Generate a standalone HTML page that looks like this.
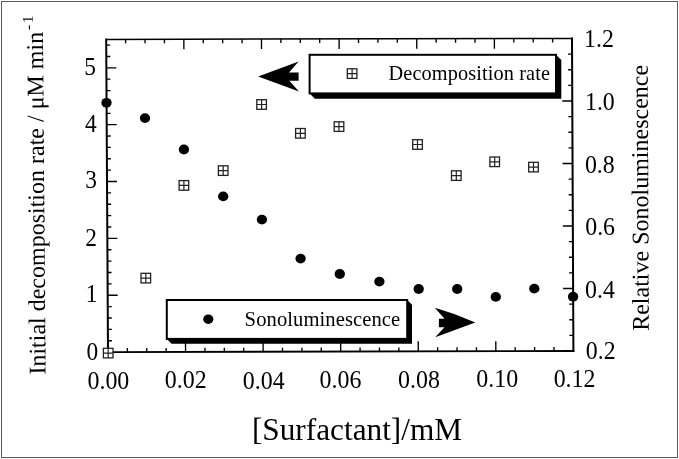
<!DOCTYPE html><html><head><meta charset="utf-8"><style>html,body{margin:0;padding:0;background:#fff;width:679px;height:459px;overflow:hidden}svg{display:block;will-change:transform}</style></head><body><svg width="679" height="459" viewBox="0 0 679 459"><rect x="0" y="0" width="679" height="459" fill="#fff"/><g><rect x="1.5" y="1.5" width="676" height="456" fill="#fff" stroke="#5a5a5a" stroke-width="1"/><line x1="106.2" y1="39.4" x2="572" y2="38.5" stroke="#000" stroke-width="1.5" stroke-linecap="square"/><line x1="108" y1="352.1" x2="573.4" y2="351" stroke="#000" stroke-width="1.8" stroke-linecap="square"/><line x1="106.2" y1="39.4" x2="108" y2="352.1" stroke="#000" stroke-width="2.0" stroke-linecap="square"/><line x1="572" y1="38.5" x2="573.4" y2="351" stroke="#000" stroke-width="2.0" stroke-linecap="square"/><path d="M127.39 352.05L127.37 348.05M125.61 39.36L125.63 43.36M146.78 352.01L146.76 348.01M145.02 39.33L145.04 43.32M166.18 351.96L166.15 347.96M164.43 39.29L164.45 43.29M185.57 351.92L185.51 341.92M183.83 39.25L183.89 49.25M204.96 351.87L204.94 347.87M203.24 39.21L203.26 43.21M224.35 351.83L224.33 347.83M222.65 39.17L222.67 43.17M243.74 351.78L243.72 347.78M242.06 39.14L242.08 43.14M263.13 351.73L263.08 341.73M261.47 39.1L261.52 49.1M282.52 351.69L282.5 347.69M280.88 39.06L280.9 43.06M301.92 351.64L301.9 347.64M300.28 39.02L300.3 43.02M321.31 351.6L321.29 347.6M319.69 38.99L319.71 42.99M340.7 351.55L340.65 341.55M339.1 38.95L339.15 48.95M360.09 351.5L360.07 347.5M358.51 38.91L358.53 42.91M379.48 351.46L379.46 347.46M377.92 38.88L377.94 42.87M398.88 351.41L398.86 347.41M397.32 38.84L397.34 42.84M418.27 351.37L418.22 341.37M416.73 38.8L416.78 48.8M437.66 351.32L437.64 347.32M436.14 38.76L436.16 42.76M457.05 351.27L457.03 347.28M455.55 38.73L455.57 42.72M476.44 351.23L476.42 347.23M474.96 38.69L474.98 42.69M495.83 351.18L495.79 341.18M494.37 38.65L494.41 48.65M515.22 351.14L515.21 347.14M513.77 38.61L513.79 42.61M534.62 351.09L534.6 347.09M533.18 38.57L533.2 42.57M554.01 351.05L553.99 347.05M552.59 38.54L552.61 42.54M107.93 340.73L111.93 340.72M107.87 329.36L111.87 329.35M107.8 317.99L111.8 317.98M107.74 306.62L111.74 306.61M107.67 295.25L117.67 295.22M107.61 283.87L111.61 283.87M107.54 272.5L111.54 272.49M107.48 261.13L111.48 261.12M107.41 249.76L111.41 249.75M107.35 238.39L117.35 238.37M107.28 227.02L111.28 227.01M107.21 215.65L111.21 215.64M107.15 204.28L111.15 204.27M107.08 192.91L111.08 192.9M107.02 181.54L117.02 181.52M106.95 170.17L110.95 170.16M106.89 158.79L110.89 158.79M106.82 147.42L110.82 147.42M106.76 136.05L110.76 136.04M106.69 124.68L116.69 124.66M106.63 113.31L110.63 113.3M106.56 101.94L110.56 101.93M106.49 90.57L110.49 90.56M106.43 79.2L110.43 79.19M106.36 67.83L116.36 67.81M106.3 56.46L110.3 56.45M106.23 45.09L110.23 45.08M573.33 335.38L569.33 335.38M573.26 319.75L569.26 319.76M573.19 304.12L569.19 304.13M573.12 288.5L563.12 288.52M573.05 272.88L569.05 272.88M572.98 257.25L568.98 257.26M572.91 241.62L568.91 241.63M572.84 226L562.84 226.02M572.77 210.38L568.77 210.38M572.7 194.75L568.7 194.76M572.63 179.12L568.63 179.13M572.56 163.5L562.56 163.52M572.49 147.87L568.49 147.88M572.42 132.25L568.42 132.26M572.35 116.62L568.35 116.63M572.28 101L562.28 101.02M572.21 85.37L568.21 85.38M572.14 69.75L568.14 69.76M572.07 54.12L568.07 54.13" stroke="#000" stroke-width="1.35" fill="none"/><rect x="103.4" y="348.3" width="9.6" height="9.6" fill="#fff" stroke="#222" stroke-width="1.3"/><path d="M103.4 353.1H113M108.2 348.3V357.9" stroke="#222" stroke-width="1.2"/><rect x="141" y="273.3" width="9.6" height="9.6" fill="#fff" stroke="#222" stroke-width="1.3"/><path d="M141 278.1H150.6M145.8 273.3V282.9" stroke="#222" stroke-width="1.2"/><rect x="179.1" y="180.6" width="9.6" height="9.6" fill="#fff" stroke="#222" stroke-width="1.3"/><path d="M179.1 185.4H188.7M183.9 180.6V190.2" stroke="#222" stroke-width="1.2"/><rect x="218.4" y="165.8" width="9.6" height="9.6" fill="#fff" stroke="#222" stroke-width="1.3"/><path d="M218.4 170.6H228M223.2 165.8V175.4" stroke="#222" stroke-width="1.2"/><rect x="256.8" y="99.7" width="9.6" height="9.6" fill="#fff" stroke="#222" stroke-width="1.3"/><path d="M256.8 104.5H266.4M261.6 99.7V109.3" stroke="#222" stroke-width="1.2"/><rect x="295.6" y="128.5" width="9.6" height="9.6" fill="#fff" stroke="#222" stroke-width="1.3"/><path d="M295.6 133.3H305.2M300.4 128.5V138.1" stroke="#222" stroke-width="1.2"/><rect x="334.2" y="121.8" width="9.6" height="9.6" fill="#fff" stroke="#222" stroke-width="1.3"/><path d="M334.2 126.6H343.8M339 121.8V131.4" stroke="#222" stroke-width="1.2"/><rect x="412.7" y="139.7" width="9.6" height="9.6" fill="#fff" stroke="#222" stroke-width="1.3"/><path d="M412.7 144.5H422.3M417.5 139.7V149.3" stroke="#222" stroke-width="1.2"/><rect x="451.5" y="170.8" width="9.6" height="9.6" fill="#fff" stroke="#222" stroke-width="1.3"/><path d="M451.5 175.6H461.1M456.3 170.8V180.4" stroke="#222" stroke-width="1.2"/><rect x="489.9" y="157" width="9.6" height="9.6" fill="#fff" stroke="#222" stroke-width="1.3"/><path d="M489.9 161.8H499.5M494.7 157V166.6" stroke="#222" stroke-width="1.2"/><rect x="528.7" y="162.3" width="9.6" height="9.6" fill="#fff" stroke="#222" stroke-width="1.3"/><path d="M528.7 167.1H538.3M533.5 162.3V171.9" stroke="#222" stroke-width="1.2"/><ellipse cx="106.5" cy="102.8" rx="5.15" ry="4.9" fill="#000"/><ellipse cx="145" cy="118.1" rx="5.15" ry="4.9" fill="#000"/><ellipse cx="183.9" cy="149.5" rx="5.15" ry="4.9" fill="#000"/><ellipse cx="223.2" cy="196.4" rx="5.15" ry="4.9" fill="#000"/><ellipse cx="261.9" cy="219.6" rx="5.15" ry="4.9" fill="#000"/><ellipse cx="300.6" cy="258.6" rx="5.15" ry="4.9" fill="#000"/><ellipse cx="339.8" cy="274" rx="5.15" ry="4.9" fill="#000"/><ellipse cx="379.4" cy="281.6" rx="5.15" ry="4.9" fill="#000"/><ellipse cx="418.7" cy="289" rx="5.15" ry="4.9" fill="#000"/><ellipse cx="457.2" cy="289" rx="5.15" ry="4.9" fill="#000"/><ellipse cx="495.8" cy="296.9" rx="5.15" ry="4.9" fill="#000"/><ellipse cx="534.3" cy="288.6" rx="5.15" ry="4.9" fill="#000"/><ellipse cx="573.1" cy="296.7" rx="5.15" ry="4.9" fill="#000"/><polygon points="309.6,93.4 556,54.8 561.3,60.1 561.3,98.7 314.9,98.7" fill="#000"/><rect x="309.6" y="54.8" width="246.4" height="38.6" fill="#fff" stroke="#000" stroke-width="2"/><polygon points="166.8,338.9 407.2,300 412,304.8 412,343.7 171.6,343.7" fill="#000"/><rect x="166.8" y="300" width="240.4" height="38.9" fill="#fff" stroke="#000" stroke-width="2"/><rect x="347.3" y="68.8" width="9.6" height="9.6" fill="#fff" stroke="#222" stroke-width="1.3"/><path d="M347.3 73.6H356.9M352.1 68.8V78.4" stroke="#222" stroke-width="1.2"/><ellipse cx="208.3" cy="319.2" rx="5.1" ry="4.8" fill="#000"/><path d="M258.2 76.5L298.6 61.4L289 72.5H298.6V80.8H289.3L299 91.5Z" fill="#000"/><path d="M475.3 322.4Q455 313.5 434.8 307.8L444.5 318.8H438.9V327.2H444.5L435.2 337.3Z" fill="#000"/><text transform="translate(86.41,359.67) scale(0.94,1)" font-size="24.84" font-family="Liberation Serif, serif" fill="#000">0</text><text transform="translate(85.84,302.28) scale(0.94,1)" font-size="24.84" font-family="Liberation Serif, serif" fill="#000">1</text><text transform="translate(85.27,245.85) scale(0.94,1)" font-size="24.84" font-family="Liberation Serif, serif" fill="#000">2</text><text transform="translate(85.31,187.83) scale(0.94,1)" font-size="24.84" font-family="Liberation Serif, serif" fill="#000">3</text><text transform="translate(85,131.74) scale(0.94,1)" font-size="24.84" font-family="Liberation Serif, serif" fill="#000">4</text><text transform="translate(84.18,75.18) scale(0.94,1)" font-size="24.84" font-family="Liberation Serif, serif" fill="#000">5</text><text transform="translate(585.86,359.39) scale(0.97,1)" font-size="24.61" font-family="Liberation Serif, serif" fill="#000">0.2</text><text transform="translate(585.01,297.52) scale(0.97,1)" font-size="24.61" font-family="Liberation Serif, serif" fill="#000">0.4</text><text transform="translate(585.2,234.78) scale(0.97,1)" font-size="24.61" font-family="Liberation Serif, serif" fill="#000">0.6</text><text transform="translate(584.94,172.8) scale(0.97,1)" font-size="24.61" font-family="Liberation Serif, serif" fill="#000">0.8</text><text transform="translate(584.96,109.89) scale(0.97,1)" font-size="24.61" font-family="Liberation Serif, serif" fill="#000">1.0</text><text transform="translate(583.99,47.09) scale(0.97,1)" font-size="24.61" font-family="Liberation Serif, serif" fill="#000">1.2</text><text transform="translate(87.44,388.75) scale(0.96,1)" font-size="24.94" font-family="Liberation Serif, serif" fill="#000">0.00</text><text transform="translate(164.75,388.23) scale(0.96,1)" font-size="24.94" font-family="Liberation Serif, serif" fill="#000">0.02</text><text transform="translate(242.8,388.51) scale(0.96,1)" font-size="24.94" font-family="Liberation Serif, serif" fill="#000">0.04</text><text transform="translate(319.57,387.86) scale(0.96,1)" font-size="24.94" font-family="Liberation Serif, serif" fill="#000">0.06</text><text transform="translate(397.96,387.88) scale(0.96,1)" font-size="24.94" font-family="Liberation Serif, serif" fill="#000">0.08</text><text transform="translate(476.21,387.23) scale(0.96,1)" font-size="24.94" font-family="Liberation Serif, serif" fill="#000">0.10</text><text transform="translate(553.65,386.99) scale(0.96,1)" font-size="24.94" font-family="Liberation Serif, serif" fill="#000">0.12</text><text transform="translate(357,440) scale(0.978,1)" font-size="32" text-anchor="middle" font-family="Liberation Serif, serif" fill="#000">[Surfactant]/mM</text><text x="388.5" y="80" font-size="20.3" letter-spacing="0.12" font-family="Liberation Serif, serif" fill="#000">Decomposition rate</text><text x="244.6" y="325.8" font-size="20.6" letter-spacing="0.08" font-family="Liberation Serif, serif" fill="#000">Sonoluminescence</text><text transform="translate(45.6,374.6) rotate(-90.45)" font-size="24" font-family="Liberation Serif, serif" fill="#000">Initial decomposition rate / μM min<tspan font-size="15" dx="2" dy="-10">-</tspan><tspan font-size="15" dx="2">1</tspan></text><text transform="translate(648.8,330.8) rotate(-90.25)" font-size="24" font-family="Liberation Serif, serif" fill="#000">Relative Sonoluminescence</text></g></svg></body></html>
